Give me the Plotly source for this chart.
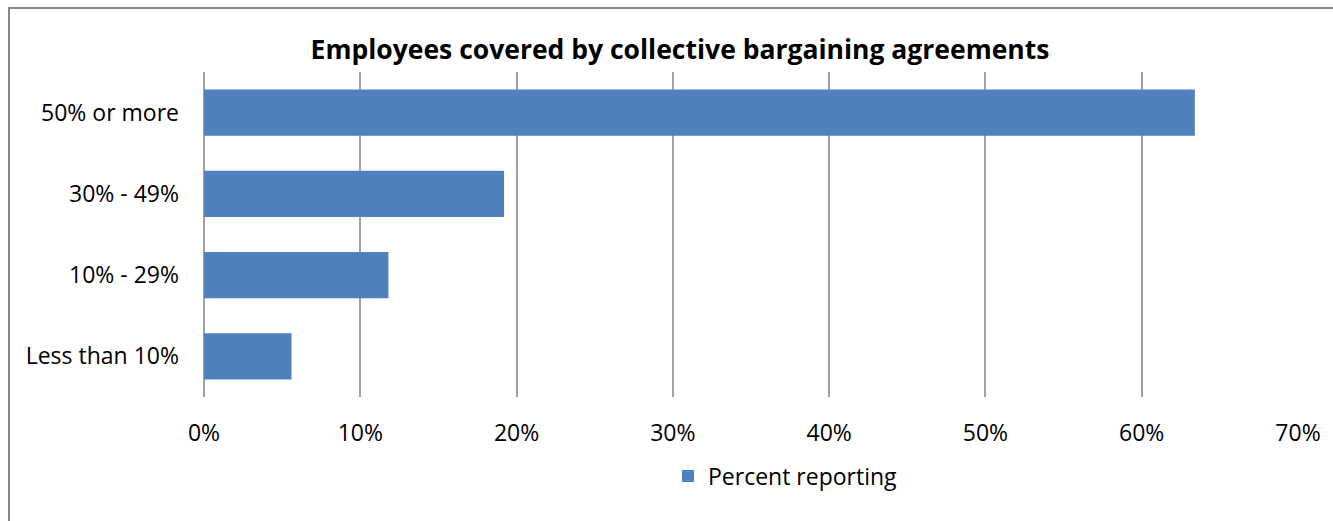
import plotly.graph_objects as go

categories = ["Less than 10%", "10% - 29%", "30% - 49%", "50% or more"]
values = [5.6, 11.8, 19.2, 63.4]
tick_vals = [0, 10, 20, 30, 40, 50, 60, 70]
tick_text = ["0%", "10%", "20%", "30%", "40%", "50%", "60%", "70%"]

W, H = 1333, 521
L, R, T, B = 204, 35, 72, 124
pw, ph = W - L - R, H - T - B

def px_x(x):
    return (x - L) / pw

def px_y(y):
    return (H - B - y) / ph

FONT = "Open Sans"
GRID = "#A0A0A0"

fig = go.Figure()
fig.add_trace(go.Bar(
    y=categories, x=values, orientation="h",
    marker=dict(color="#4F81BD", line=dict(width=0)),
    name="Percent reporting",
))

fig.update_layout(
    width=W, height=H,
    margin=dict(l=L, r=R, t=T, b=B),
    paper_bgcolor="white", plot_bgcolor="white",
    font=dict(family=FONT, size=23, color="#000000"),
    title=dict(text="<b>Employees covered by collective bargaining agreements</b>",
               x=px_x(680), xref="paper", xanchor="center",
               y=1 - 50 / H, yanchor="middle",
               font=dict(family=FONT, size=26.5, color="#000000")),
    bargap=0.43,
    showlegend=True,
    legend=dict(orientation="h", x=px_x(668), xanchor="left",
                y=px_y(476), yanchor="middle",
                font=dict(family=FONT, size=23), itemwidth=30),
    xaxis=dict(range=[0, 70], tickvals=tick_vals, ticktext=tick_text,
               showgrid=True, gridcolor=GRID, gridwidth=2,
               zeroline=True, zerolinecolor=GRID, zerolinewidth=2,
               showline=False, ticks="",
               ticklabelstandoff=20, fixedrange=True),
    yaxis=dict(showgrid=False, zeroline=False, showline=False, ticks="",
               ticklabelstandoff=24, range=[-0.5, 3.5], fixedrange=True),
    shapes=[dict(type="rect", xref="paper", yref="paper",
                 x0=px_x(9), x1=px_x(1345), y0=px_y(540), y1=px_y(8),
                 line=dict(color="#868686", width=2), layer="below")],
)

fig.write_html("out.html", config={"displayModeBar": False},
               post_script="document.body.style.margin='0';document.body.style.overflow='hidden';")
